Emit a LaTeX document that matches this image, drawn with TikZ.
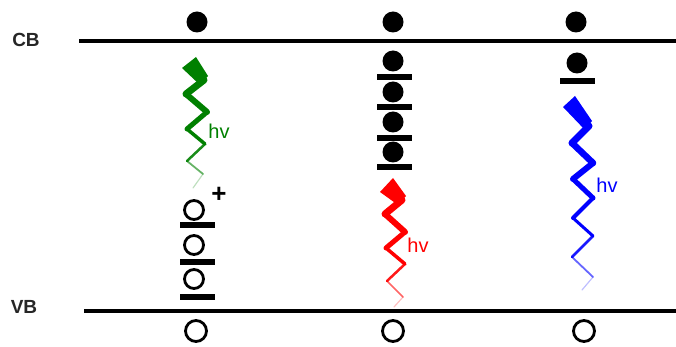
\documentclass[tikz,border=0pt]{standalone}
\usepackage{fontspec}
\setmainfont{Liberation Sans}
\definecolor{phgreen}{RGB}{0,128,0}
\definecolor{phred}{RGB}{255,0,0}
\definecolor{phblue}{RGB}{0,0,255}
\tikzset{
  band/.style={line width=4pt},
  electron/.style={circle,fill=black,inner sep=0pt,minimum size=21pt},
  hole/.style={circle,draw=black,line width=2.8pt,inner sep=0pt,minimum size=19pt},
  bighole/.style={hole,minimum size=21pt},
  trap/.style={rectangle,fill=black,inner sep=0pt,minimum width=35pt,minimum height=5.5pt},
  bandlabel/.style={font=\fontsize{19}{22}\selectfont\bfseries,text=black!85},
  hvlabel/.style={font=\fontsize{20}{22}\selectfont,inner sep=0pt},
  wave/.style={line cap=round,line join=round}
}
\begin{document}
\begin{tikzpicture}[x=1pt,y=-1pt]
\useasboundingbox (0,0) rectangle (676,347);

% conduction and valence bands
\coordinate (cbL) at (79,41);  \coordinate (cbR) at (676,41);
\coordinate (vbL) at (84,311); \coordinate (vbR) at (676,311);
\draw[band] (cbL) -- (cbR);
\draw[band] (vbL) -- (vbR);
\node[bandlabel] (cb) at (26,40) {CB};
\node[bandlabel] (vb) at (24,307) {VB};

% ---------- column 1: trapped holes, green emission ----------
\node[electron] (e1) at (197,22) {};
\node[hole] (h1a) at (194,210) {};
\node[trap] (t1a) at (197,225) {};
\node[hole] (h1b) at (194,245) {};
\node[trap] (t1b) at (197,262) {};
\node[hole] (h1c) at (194,279) {};
\node[trap] (t1c) at (197,297) {};
\node[font=\fontsize{26}{26}\selectfont\bfseries,inner sep=0pt] (plus) at (219,195) {+};
\node[bighole] (v1) at (196,331) {};

\fill[phgreen] (182,68) -- (196,57) -- (208,76) -- (200,85) -- cycle;
\foreach \a/\b/\w/\o in {
  {(204,80)}/{(186,94)}/7/1, {(186,94)}/{(207,112)}/6/1,
  {(207,112)}/{(187,129)}/5/1, {(187,129)}/{(205,144)}/3.5/1,
  {(205,144)}/{(187,161)}/2.5/0.9, {(187,161)}/{(203,174)}/1.8/0.6,
  {(203,174)}/{(193,188)}/1.2/0.25}
  \draw[wave,phgreen,line width=\w pt,draw opacity=\o] \a -- \b;
\node[hvlabel,text=phgreen] (hv1) at (219,131) {hv};

% ---------- column 2: trapped electrons, red emission ----------
\node[electron] (e2) at (393,22) {};
\node[electron] (e2a) at (393,61) {};
\node[trap] (t2a) at (394,77) {};
\node[electron] (e2b) at (393,92) {};
\node[trap] (t2b) at (394,107) {};
\node[electron] (e2c) at (393,122) {};
\node[trap] (t2c) at (394,138) {};
\node[electron] (e2d) at (393,152) {};
\node[trap] (t2d) at (394,167) {};
\node[bighole] (v2) at (393,331) {};

\fill[phred] (380,192) -- (393,178) -- (406,196) -- (398,205) -- cycle;
\foreach \a/\b/\w/\o in {
  {(402,200)}/{(385,214)}/7/1, {(385,214)}/{(405,232)}/6/1,
  {(405,232)}/{(386,248)}/5/1, {(386,248)}/{(405,264)}/3.5/1,
  {(405,264)}/{(387,281)}/2.5/0.9, {(387,281)}/{(403,297)}/1.6/0.6,
  {(403,297)}/{(394,307)}/1.2/0.25}
  \draw[wave,phred,line width=\w pt,draw opacity=\o] \a -- \b;
\node[hvlabel,text=phred] (hv2) at (418,245) {hv};

% ---------- column 3: single trap, blue emission ----------
\node[electron] (e3) at (576,22) {};
\node[electron] (e3a) at (577,63) {};
\node[trap] (t3a) at (577,81) {};
\node[bighole] (v3) at (584,331) {};

\fill[phblue] (563,107) -- (575,96) -- (592,121) -- (585,130) -- cycle;
\foreach \a/\b/\w/\o in {
  {(589,126)}/{(572,143)}/7/1, {(572,143)}/{(593,163)}/6.5/1,
  {(593,163)}/{(573,179)}/6/1, {(573,179)}/{(593,198)}/5/1,
  {(593,198)}/{(573,218)}/4/1, {(573,218)}/{(593,236)}/3/1,
  {(593,236)}/{(572,257)}/2.5/0.9, {(572,257)}/{(593,277)}/1.8/0.6,
  {(593,277)}/{(582,290)}/1.2/0.25}
  \draw[wave,phblue,line width=\w pt,draw opacity=\o] \a -- \b;
\node[hvlabel,text=phblue] (hv3) at (607,185) {hv};
\end{tikzpicture}
\end{document}
